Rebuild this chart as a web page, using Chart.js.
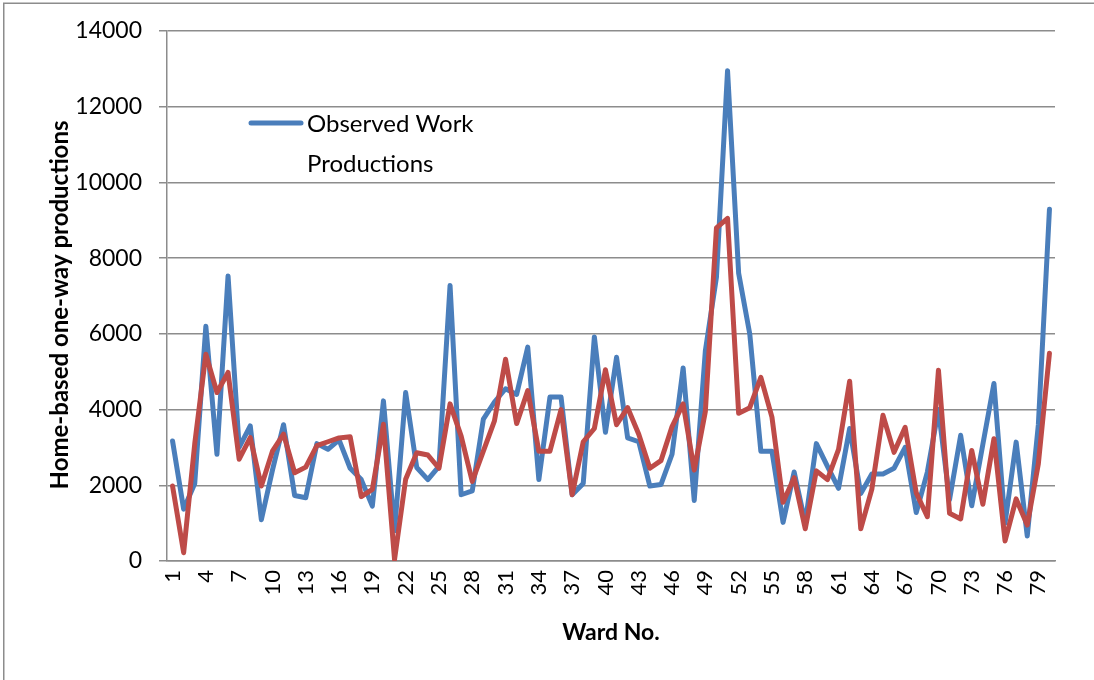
<!DOCTYPE html>
<html>
<head>
<meta charset="utf-8">
<title>Home-based work productions by ward</title>
<script src="https://cdn.jsdelivr.net/npm/chart.js@4.4.1/dist/chart.umd.min.js"></script>
<style>
  html, body { margin: 0; padding: 0; background: #fff; }
  #wrap { position: relative; width: 1094px; height: 680px; }
</style>
</head>
<body>
<div id="wrap"><canvas id="lineChart" width="1094" height="680"></canvas></div>
<script>
// Ward numbers along the x axis, and the ones that get a label
const wards = [
  1, 2, 3, 4, 5, 6, 7, 8, 9, 10, 11, 12, 13, 14, 15, 16, 17, 18, 19, 20,
  21, 22, 23, 24, 25, 26, 27, 28, 29, 30, 31, 32, 33, 34, 35, 36, 37, 38, 39, 40,
  41, 42, 43, 44, 45, 46, 47, 48, 49, 50, 51, 52, 53, 54, 55, 56, 57, 58, 59, 60,
  61, 62, 63, 64, 65, 66, 67, 68, 69, 70, 71, 72, 73, 74, 75, 76, 77, 78, 79, 80
];
const shownWards = [1, 4, 7, 10, 13, 16, 19, 22, 25, 28, 31, 34, 37, 40, 43, 46, 49, 52, 55, 58, 61, 64, 67, 70, 73, 76, 79];

// Home-based one-way work productions per ward
const observed = [
  3170, 1370, 2050, 6200, 2820, 7530, 3000, 3570, 1090, 2400,
  3600, 1730, 1670, 3100, 2950, 3200, 2450, 2150, 1450, 4230,
  800, 4450, 2470, 2150, 2500, 7280, 1750, 1850, 3750, 4200,
  4550, 4400, 5650, 2150, 4330, 4330, 1750, 2050, 5920, 3400,
  5380, 3250, 3150, 1980, 2020, 2820, 5100, 1600, 5550, 7500,
  12950, 7600, 6000, 2900, 2900, 1020, 2350, 1000, 3100, 2500,
  1920, 3500, 1780, 2300, 2300, 2450, 3000, 1280, 2350, 4000,
  1620, 3320, 1460, 3080, 4690, 1000, 3140, 660, 3600, 9290
];
const modelled = [
  1980, 220, 3100, 5460, 4450, 4980, 2690, 3260, 1980, 2900,
  3350, 2330, 2480, 3050, 3150, 3250, 3280, 1700, 1890, 3610,
  40, 2160, 2860, 2800, 2450, 4150, 3300, 2100, 2900, 3700,
  5330, 3630, 4500, 2900, 2900, 4000, 1750, 3150, 3500, 5050,
  3600, 4050, 3350, 2450, 2650, 3550, 4150, 2400, 3950, 8800,
  9050, 3900, 4050, 4850, 3800, 1550, 2200, 850, 2380, 2150,
  2950, 4750, 850, 1900, 3850, 2870, 3530, 1800, 1170, 5040,
  1260, 1110, 2920, 1500, 3230, 530, 1640, 950, 2570, 5490
];

const yTicks = [0, 2000, 4000, 6000, 8000, 10000, 12000, 14000];
const legendLines = ["Observed Work", "Productions"];

const axisGrey = "#8c8c8c";
Chart.defaults.font.family = "Lato";
Chart.defaults.color = "#000";

// thin frame round the whole chart
const frame = {
  id: "frame",
  beforeDraw(chart) {
    const ctx = chart.ctx;
    ctx.save();
    ctx.fillStyle = "#fff";
    ctx.fillRect(0, 0, chart.width, chart.height);
    ctx.strokeStyle = axisGrey;
    ctx.lineWidth = 1.5;
    ctx.strokeRect(3.75, 3.25, chart.width + 20, chart.height + 20);
    ctx.restore();
  }
};

// legend entry for the first series, sitting inside the plot
const insideLegend = {
  id: "insideLegend",
  afterDatasetsDraw(chart) {
    const ctx = chart.ctx;
    const ds = chart.data.datasets[0];
    ctx.save();
    ctx.strokeStyle = ds.borderColor;
    ctx.lineWidth = 5;
    ctx.lineCap = "round";
    ctx.beginPath();
    ctx.moveTo(251, 123);
    ctx.lineTo(301, 123);
    ctx.stroke();
    ctx.fillStyle = "#000";
    ctx.font = "24px Lato";
    ctx.textBaseline = "alphabetic";
    legendLines.forEach((line, i) => ctx.fillText(line, 307, 132 + i * 40));
    ctx.restore();
  }
};

function drawChart() {
  new Chart(document.getElementById("lineChart"), {
    type: "line",
    data: {
      labels: wards,
      datasets: [
        {
          label: legendLines.join(" "),
          data: observed,
          borderColor: "#4A7EBB",
          borderWidth: 5,
          pointRadius: 0,
          tension: 0,
          borderJoinStyle: "round",
          borderCapStyle: "round",
          order: 1,
        },
        {
          label: "Modelled Work Productions",
          data: modelled,
          borderColor: "#BE4B48",
          borderWidth: 5,
          pointRadius: 0,
          tension: 0,
          borderJoinStyle: "round",
          borderCapStyle: "round",
          order: 0,
        },
      ],
    },
    options: {
      responsive: false,
      animation: false,
      layout: { padding: { top: 31, right: 39, bottom: 0, left: 0 } },
      plugins: {
        legend: { display: false },
        tooltip: { enabled: false },
      },
      scales: {
        x: {
          offset: true,
          afterFit: (scale) => { scale.height = 119; },
          grid: { display: false, drawTicks: false },
          border: { color: axisGrey, width: 1.5 },
          ticks: {
            autoSkip: false,
            minRotation: 90,
            maxRotation: 90,
            padding: 9,
            font: { size: 22 },
            callback: (value, index) => shownWards.includes(wards[index]) ? String(wards[index]) : "",
          },
          title: {
            display: true,
            text: "Ward No.",
            font: { size: 23, weight: "bold" },
            padding: { top: 0, bottom: 34 },
          },
        },
        y: {
          min: 0,
          max: 14000,
          afterBuildTicks: (scale) => { scale.ticks = yTicks.map((v) => ({ value: v })); },
          afterFit: (scale) => { scale.width = 167; },
          grid: { color: axisGrey, lineWidth: 1.5, tickLength: 8 },
          border: { color: axisGrey, width: 1.5 },
          ticks: { padding: 17, font: { size: 23 }, callback: (value) => String(value) },
          title: {
            display: true,
            // trailing em space nudges the rotated title a little lower
            text: "Home-based one-way productions\u2003",
            font: { size: 24, weight: "bold" },
            padding: { top: 46, bottom: 0 },
          },
        },
      },
    },
    plugins: [frame, insideLegend],
  });
}

drawChart();
</script>
</body>
</html>
